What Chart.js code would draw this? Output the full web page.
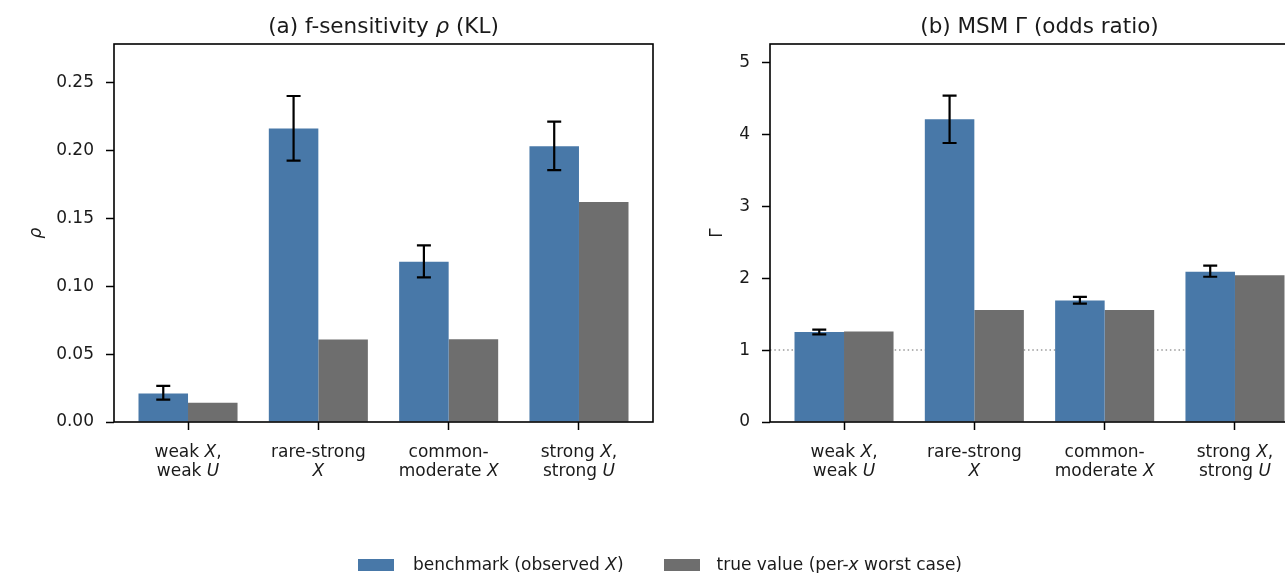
<!DOCTYPE html>
<html>
<head>
<meta charset="utf-8">
<script src="https://cdn.jsdelivr.net/npm/chart.js@4.4.1/dist/chart.umd.min.js"></script>
<style>
  html, body { margin: 0; padding: 0; background: #fff; width: 1285px; height: 573px; overflow: hidden; position: relative; }
  canvas { position: absolute; top: 0; }
  #legend { position: absolute; left: 358px; top: 554px; display: flex; align-items: center; font: 17px "DejaVu Sans"; line-height: 20px; color: #1a1a1a; white-space: nowrap; }
  .box { width: 36px; height: 12px; margin-top: 2px; }
</style>
</head>
<body>
<canvas id="cA" width="680" height="573" style="left:0px"></canvas>
<canvas id="cB" width="680" height="573" style="left:660px"></canvas>
<div id="legend"></div>
<script>
// ---------------- data ----------------
const categories = ['weak *X*,|weak *U*', 'rare-strong|*X*', 'common-|moderate *X*', 'strong *X*,|strong *U*'];
const seriesNames = ['benchmark (observed *X*)', 'true value (per-*x* worst case)'];
const seriesColors = ['#4878a8', '#6e6e6e'];

const rhoBench   = [0.021, 0.216, 0.118, 0.203];
const rhoBenchLo = [0.0165, 0.1925, 0.1065, 0.1855];
const rhoBenchHi = [0.0266, 0.240, 0.130, 0.2212];
const rhoTrue    = [0.0141, 0.0607, 0.0609, 0.1619];
const rhoTicks   = [0, 0.05, 0.10, 0.15, 0.20, 0.25];

const gammaBench   = [1.25, 4.21, 1.69, 2.09];
const gammaBenchLo = [1.22, 3.88, 1.645, 2.02];
const gammaBenchHi = [1.285, 4.54, 1.74, 2.175];
const gammaTrue    = [1.26, 1.556, 1.556, 2.04];
const gammaTicks   = [0, 1, 2, 3, 4, 5];
const gammaRef     = 1;

// ---------------- helpers ----------------
const FAM = '"DejaVu Sans"';
const TXT = '#1a1a1a';
function richWidth(ctx, text, size) {
  let w = 0;
  text.split('*').forEach((p, i) => {
    ctx.font = (i % 2 ? 'italic ' : '') + size + 'px ' + FAM;
    w += ctx.measureText(p).width;
  });
  return w;
}
function drawRich(ctx, text, x, y, size) {
  const w = richWidth(ctx, text, size);
  let cx = x - w / 2;
  ctx.textAlign = 'left';
  ctx.textBaseline = 'alphabetic';
  ctx.fillStyle = TXT;
  text.split('*').forEach((p, i) => {
    ctx.font = (i % 2 ? 'italic ' : '') + size + 'px ' + FAM;
    ctx.fillText(p, cx, y);
    cx += ctx.measureText(p).width;
  });
}

const decorPlugin = {
  id: 'decor',
  beforeDatasetsDraw(chart, args, o) {
    const ctx = chart.ctx, a = chart.chartArea, ys = chart.scales.y;
    if (o.refLine !== undefined) {
      const y = ys.getPixelForValue(o.refLine);
      ctx.save();
      ctx.strokeStyle = '#9a9a9a';
      ctx.lineWidth = 1.5;
      ctx.setLineDash([1.5, 2.8]);
      ctx.beginPath(); ctx.moveTo(a.left, y); ctx.lineTo(a.right, y); ctx.stroke();
      ctx.restore();
    }
  },
  afterDatasetsDraw(chart, args, o) {
    const ctx = chart.ctx, a = chart.chartArea, ys = chart.scales.y, xs = chart.scales.x;
    // error bars on benchmark series
    const meta = chart.getDatasetMeta(0);
    ctx.save();
    ctx.strokeStyle = '#000';
    ctx.lineWidth = 2.2;
    meta.data.forEach((bar, i) => {
      const x = bar.x;
      const yt = ys.getPixelForValue(o.hi[i]);
      const yb = ys.getPixelForValue(o.lo[i]);
      ctx.beginPath();
      ctx.moveTo(x, yt); ctx.lineTo(x, yb);
      ctx.moveTo(x - 7, yt); ctx.lineTo(x + 7, yt);
      ctx.moveTo(x - 7, yb); ctx.lineTo(x + 7, yb);
      ctx.stroke();
    });
    ctx.restore();
    // frame (spines)
    ctx.save();
    ctx.strokeStyle = '#000';
    ctx.lineWidth = 1.6;
    ctx.strokeRect(a.left, a.top, a.right - a.left, a.bottom - a.top);
    ctx.restore();
    // x tick labels
    categories.forEach((c, i) => {
      const x = xs.getPixelForValue(i);
      const lines = c.split('|');
      lines.forEach((ln, k) => drawRich(ctx, ln, x, a.bottom + 35 + k * 19, 17));
    });
    // title
    drawRich(ctx, o.title, (a.left + a.right) / 2, 33, 21.5);
    // y label
    ctx.save();
    ctx.translate(o.ylabelX, (a.top + a.bottom) / 2);
    ctx.rotate(-Math.PI / 2);
    drawRich(ctx, o.ylabel, 0, 6, 17);
    ctx.restore();
  }
};

function makeChart(id, bench, truth, lo, hi, ymax, ticks, fmt, padLeft, padRight, title, ylabel, ylabelX, refLine) {
  const toPts = arr => arr.map((v, i) => ({ x: i, y: v }));
  return new Chart(document.getElementById(id), {
    type: 'bar',
    data: {
      datasets: [
        { label: seriesNames[0].replace(/\*/g, ''), data: toPts(bench), backgroundColor: seriesColors[0],
          borderWidth: 0, categoryPercentage: 0.76, barPercentage: 1.0 },
        { label: seriesNames[1].replace(/\*/g, ''), data: toPts(truth), backgroundColor: seriesColors[1],
          borderWidth: 0, categoryPercentage: 0.76, barPercentage: 1.0 }
      ]
    },
    options: {
      responsive: false,
      animation: false,
      devicePixelRatio: 1,
      layout: { padding: { left: 0, top: 44, right: padRight, bottom: 0 } },
      plugins: {
        legend: { display: false },
        tooltip: { enabled: false },
        title: { display: false },
        decor: { lo, hi, title, ylabel, ylabelX, refLine }
      },
      scales: {
        x: {
          type: 'linear',
          offset: false,
          min: -0.568, max: 3.568,
          afterBuildTicks: s => { s.ticks = categories.map((_, i) => ({ value: i })); },
          afterFit: s => { s.height = 573 - 422; },
          ticks: { display: false },
          grid: { display: true, offset: false, drawOnChartArea: false, drawTicks: true, tickLength: 8, tickWidth: 1.5, tickColor: '#000' },
          border: { display: false }
        },
        y: {
          type: 'linear',
          min: 0, max: ymax,
          afterBuildTicks: s => { s.ticks = ticks.map(v => ({ value: v })); },
          afterFit: s => { s.width = padLeft; },
          ticks: { font: { family: 'DejaVu Sans', size: 17 }, color: TXT, padding: 12, callback: fmt },
          grid: { display: true, drawOnChartArea: false, drawTicks: true, tickLength: 8, tickWidth: 1.5, tickColor: '#000' },
          border: { display: false }
        }
      }
    },
    plugins: [decorPlugin]
  });
}

makeChart('cA', rhoBench, rhoTrue, rhoBenchLo, rhoBenchHi, 0.2783, rhoTicks, v => Number(v).toFixed(2),
  114, 27, '(a) f-sensitivity *ρ* (KL)', '*ρ*', 35, undefined);
makeChart('cB', gammaBench, gammaTrue, gammaBenchLo, gammaBenchHi, 5.257, gammaTicks, v => String(v),
  110, 31, '(b) MSM Γ (odds ratio)', 'Γ', 56, gammaRef);

// legend (HTML)
const lg = document.getElementById('legend');
seriesNames.forEach((n, i) => {
  const b = document.createElement('span');
  b.className = 'box'; b.style.background = seriesColors[i];
  b.style.marginLeft = i ? '40px' : '0px';
  b.style.marginRight = i ? '17px' : '19px';
  const t = document.createElement('span');
  t.innerHTML = n.split('*').map((p, k) => k % 2 ? '<i>' + p + '</i>' : p).join('');
  lg.appendChild(b); lg.appendChild(t);
});
</script>
</body>
</html>
